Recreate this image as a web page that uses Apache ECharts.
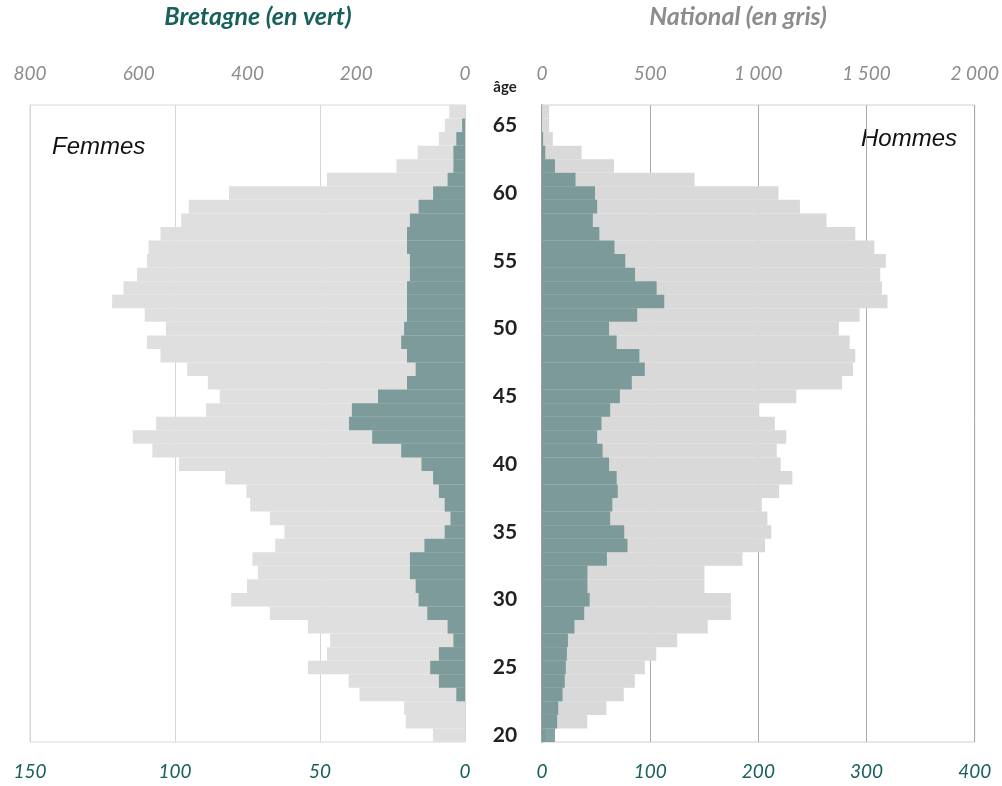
<!DOCTYPE html>
<html>
<head>
<meta charset="utf-8">
<script src="https://cdn.jsdelivr.net/npm/echarts@6/dist/echarts.min.js"></script>
<style>
  html, body { margin: 0; padding: 0; background: #fff; }
  #pyramid { width: 1002px; height: 786px; }
</style>
</head>
<body>
<div id="pyramid"></div>
<script>
// ages 20 -> 66, bottom to top
const ages = [];
for (let a = 20; a <= 66; a++) ages.push(String(a));

// Femmes - Bretagne (bottom axis, 0-150)
const femmesBretagne = [0, 0, 0, 3, 9, 12, 9, 4, 6, 13, 16, 17, 19, 19, 14, 7, 5, 7, 9, 11,
    15, 22, 32, 40, 39, 30, 20, 17, 20, 22, 21, 20, 20, 20, 19, 19, 20, 20, 19, 16,
    11, 6, 4, 4, 3, 1, 0];
// Femmes - National (top axis, 0-800)
const femmesNational = [59, 109, 112, 194, 214, 289, 254, 248, 289, 359, 430, 401, 381, 391, 349, 332, 359, 395, 402, 441,
    526, 575, 611, 568, 476, 451, 473, 511, 560, 585, 550, 589, 649, 628, 603, 585, 582, 560, 522, 508,
    434, 254, 126, 87, 48, 37, 29];
// Hommes - Bretagne (bottom axis, 0-400)
const hommesBretagne = [12, 14, 15, 19, 21, 22, 23, 24, 30, 39, 44, 42, 42, 60, 79, 76, 63, 65, 70, 69,
    62, 56, 51, 55, 63, 72, 83, 95, 90, 69, 62, 88, 113, 106, 86, 77, 67, 53, 47, 51,
    49, 31, 12, 3, 1, 0, 0];
// Hommes - National (top axis, 0-2000)
const hommesNational = [16, 209, 298, 378, 429, 475, 528, 625, 766, 873, 873, 751, 751, 927, 1031, 1060, 1042, 1016, 1096, 1157,
    1103, 1085, 1129, 1076, 1004, 1175, 1387, 1437, 1448, 1422, 1372, 1468, 1597, 1571, 1563, 1589, 1536, 1448, 1315, 1192,
    1093, 705, 333, 183, 50, 33, 33];

const teal = '#17605b';
const greyText = '#8c8c8c';
const greenFill = 'rgba(97,136,136,0.78)';

const chart = echarts.init(document.getElementById('pyramid'));

const spaceThousands = (v) => String(v).replace(/\B(?=(\d{3})+(?!\d))/g, ' ');

const topLabel = {
    color: greyText,
    fontStyle: 'italic',
    fontFamily: 'Lato, sans-serif',
    fontSize: 19,
    margin: 22,
    formatter: spaceThousands
};
const bottomLabel = {
    color: teal,
    fontStyle: 'italic',
    fontFamily: 'Lato, sans-serif',
    fontSize: 19,
    margin: 20
};

const option = {
    animation: false,
    grid: [
        { left: 30, right: 537, top: 105, bottom: 44, show: true, borderColor: '#d9d9d9', borderWidth: 1 },
        { left: 542, right: 27, top: 105, bottom: 44, show: true, borderColor: '#d0d0d0', borderWidth: 1 }
    ],
    xAxis: [
        {
            gridIndex: 0, type: 'value', position: 'top', inverse: true,
            min: 0, max: 800, interval: 200,
            axisLine: { show: false }, axisTick: { show: false }, splitLine: { show: false },
            axisLabel: topLabel
        },
        {
            gridIndex: 0, type: 'value', position: 'bottom', inverse: true,
            min: 0, max: 150, interval: 50,
            axisLine: { show: false }, axisTick: { show: false },
            splitLine: { show: true, lineStyle: { color: '#d6d6d6', width: 1 } },
            axisLabel: bottomLabel
        },
        {
            gridIndex: 1, type: 'value', position: 'top',
            min: 0, max: 2000, interval: 500,
            axisLine: { show: false }, axisTick: { show: false }, splitLine: { show: false },
            axisLabel: topLabel
        },
        {
            gridIndex: 1, type: 'value', position: 'bottom',
            min: 0, max: 400, interval: 100,
            axisLine: { show: false }, axisTick: { show: false },
            splitLine: { show: true, lineStyle: { color: '#ababab', width: 1 } },
            axisLabel: bottomLabel
        }
    ],
    yAxis: [
        {
            gridIndex: 0, type: 'category', data: ages, position: 'right',
            axisLine: { show: false }, axisTick: { show: false }, axisLabel: { show: false }
        },
        {
            gridIndex: 1, type: 'category', data: ages, position: 'left',
            axisLine: { show: true, lineStyle: { color: '#8a8a8a', width: 1.5 } },
            axisTick: { show: false },
            axisLabel: {
                interval: (i, v) => Number(v) % 5 === 0,
                margin: 37,
                align: 'center',
                color: '#222',
                fontWeight: 'bold',
                fontFamily: 'Lato, sans-serif',
                fontSize: 21
            }
        }
    ],
    series: [
        {
            name: 'Femmes National', type: 'bar', xAxisIndex: 0, yAxisIndex: 0,
            data: femmesNational, itemStyle: { color: '#dfdfdf' },
            barGap: '-100%', barCategoryGap: '0%'
        },
        {
            name: 'Femmes Bretagne', type: 'bar', xAxisIndex: 1, yAxisIndex: 0,
            data: femmesBretagne, itemStyle: { color: greenFill },
            barGap: '-100%', barCategoryGap: '0%'
        },
        {
            name: 'Hommes National', type: 'bar', xAxisIndex: 2, yAxisIndex: 1,
            data: hommesNational, itemStyle: { color: '#d9d9d9' },
            barGap: '-100%', barCategoryGap: '0%'
        },
        {
            name: 'Hommes Bretagne', type: 'bar', xAxisIndex: 3, yAxisIndex: 1,
            data: hommesBretagne, itemStyle: { color: greenFill },
            barGap: '-100%', barCategoryGap: '0%'
        }
    ],
    graphic: [
        {
            type: 'text', x: 258, y: 17,
            style: {
                text: 'Bretagne (en vert)', fill: teal, textAlign: 'center', textVerticalAlign: 'middle',
                font: 'italic bold 25px Lato, sans-serif'
            }
        },
        {
            type: 'text', x: 738, y: 17,
            style: {
                text: 'National (en gris)', fill: greyText, textAlign: 'center', textVerticalAlign: 'middle',
                font: 'italic bold 25px Lato, sans-serif'
            }
        },
        {
            type: 'text', x: 505, y: 87,
            style: {
                text: 'âge', fill: '#222', textAlign: 'center', textVerticalAlign: 'middle',
                font: 'bold 15px Lato, sans-serif'
            }
        },
        {
            type: 'text', x: 52, y: 147,
            style: {
                text: 'Femmes', fill: '#111', textAlign: 'left', textVerticalAlign: 'middle',
                font: 'italic 24px "Liberation Sans", sans-serif'
            }
        },
        {
            type: 'text', x: 957, y: 139,
            style: {
                text: 'Hommes', fill: '#111', textAlign: 'right', textVerticalAlign: 'middle',
                font: 'italic 24px "Liberation Sans", sans-serif'
            }
        }
    ]
};

chart.setOption(option);
</script>
</body>
</html>
